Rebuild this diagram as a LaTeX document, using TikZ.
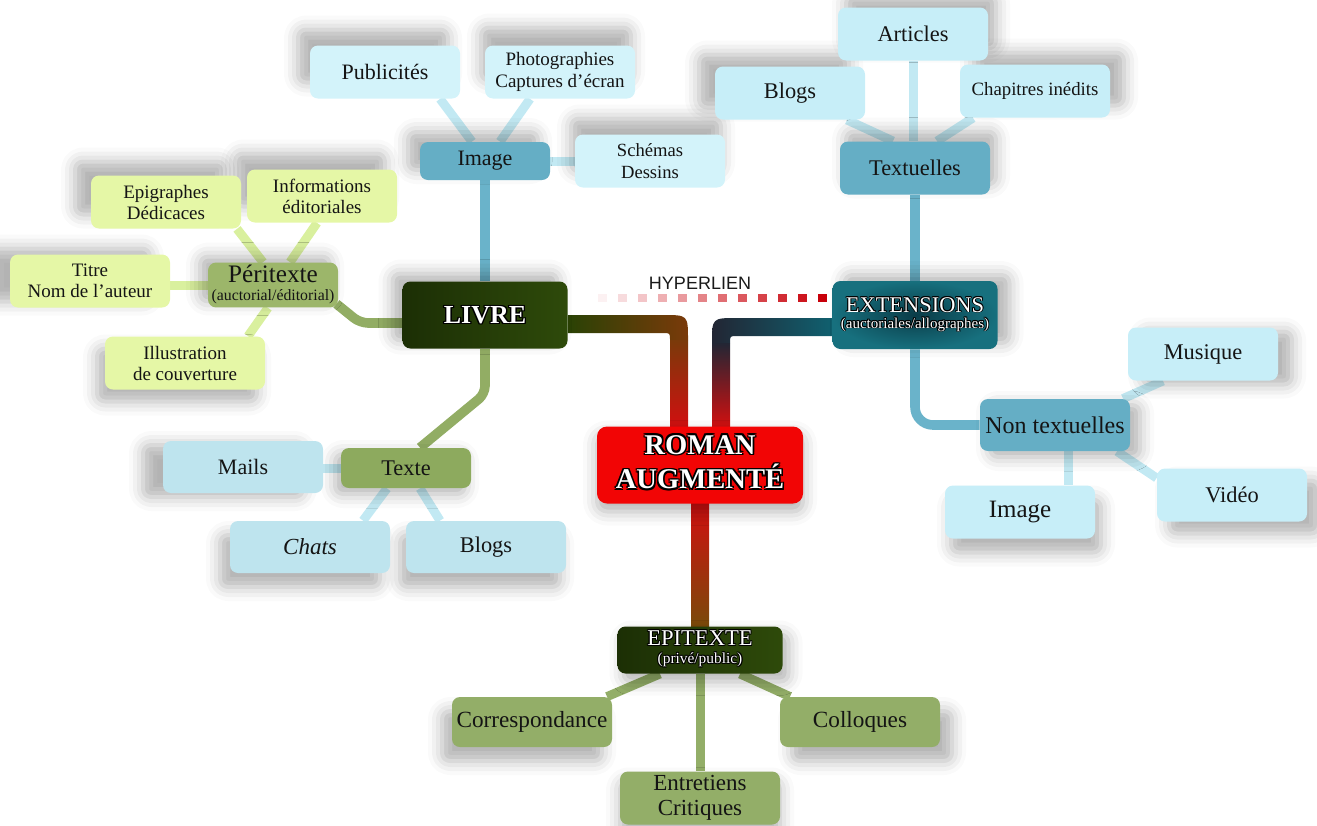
\documentclass[tikz,border=0pt]{standalone}
\usepackage{fontspec}
\setmainfont{Liberation Serif}
\newfontfamily\sansf{Liberation Sans}
\usetikzlibrary{shadows.blur,calc,backgrounds}

\definecolor{lbA}{HTML}{D3F3FA}
\definecolor{lbB}{HTML}{C7EEF8}
\definecolor{lbC}{HTML}{BEE4EE}
\definecolor{mb}{HTML}{65AEC5}
\definecolor{lgy}{HTML}{E5F7A6}
\definecolor{pg}{HTML}{9CB66A}
\definecolor{tg}{HTML}{8DAA5E}
\definecolor{eg}{HTML}{93AE68}
\definecolor{lblue}{HTML}{C2E9F3}
\definecolor{lgreen}{HTML}{D9F09E}
\definecolor{stemB}{HTML}{6AB3CA}
\definecolor{stemG}{HTML}{92AD64}
\definecolor{hyp}{HTML}{C8000A}
\definecolor{redbox}{HTML}{F20505}
\definecolor{dgA}{HTML}{1C2F05}
\definecolor{dgB}{HTML}{2E4A0A}
\definecolor{tealIn}{HTML}{0A3C48}
\definecolor{tealOut}{HTML}{17707E}
\definecolor{bandG1}{HTML}{2A4205}
\definecolor{bandG2}{HTML}{4C6A04}
\definecolor{bandBr}{HTML}{7A3A0A}
\definecolor{bandRd}{HTML}{D01010}
\definecolor{bandT1}{HTML}{10606F}
\definecolor{bandT2}{HTML}{163844}
\definecolor{bandNv}{HTML}{222634}
\definecolor{bandBot}{HTML}{7A4A0A}

\newcommand\fz[2]{\fontsize{#1}{#2}\selectfont}
\newcommand\halotxt[2][0.55pt]{\mbox{%
  \setbox0=\hbox{\color{black}#2}%
  \rlap{\kern#1\copy0}\rlap{\kern-#1\copy0}%
  \rlap{\raise#1\copy0}\rlap{\lower#1\copy0}%
  \rlap{\kern#1\raise#1\copy0}\rlap{\kern-#1\raise#1\copy0}%
  \rlap{\kern#1\lower#1\copy0}\rlap{\kern-#1\lower#1\copy0}%
  \hbox{\color{white}#2}}}

\tikzset{
  base/.style={rounded corners=4pt, align=center, inner sep=1pt, text=black!92},
  sh/.style 2 args={blur shadow={shadow xshift=#1, shadow yshift=#2, shadow blur radius=7pt, shadow opacity=30}},
  lbox/.style={base, fill=lbB, minimum width=75pt, minimum height=26.5pt, font=\fz{11.2}{12.5}},
  tbox/.style={base, fill=lbC, minimum width=80pt, minimum height=26pt, font=\fz{11.2}{12.5}},
  mbox/.style={base, fill=mb, font=\fz{11.2}{12.5}},
  ybox/.style={base, fill=lgy, minimum width=75pt, minimum height=26.5pt, font=\fz{9.5}{10.5}},
  gbox/.style={base, fill=eg, minimum width=80pt, minimum height=25pt, font=\fz{11.6}{12.5}},
  lline/.style={line width=4.5pt, draw=#1},
  stem/.style={line width=4.8pt, draw=#1, rounded corners=4pt},
}

\begin{document}
\begin{tikzpicture}[x=0.5pt,y=-0.5pt]
\useasboundingbox (0,0) rectangle (1317,825);

% ---------- top: Image branch ----------
\node[lbox, fill=lbA, font=\fz{9.5}{11}, sh={-2pt}{9pt}] (photo) at (560,72) {Photographies\\Captures d’écran};
\node[lbox, fill=lbA, font=\fz{11}{12}, sh={-6pt}{8pt}] (pub) at (385,72) {Publicités};
\node[lbox, fill=lbA, font=\fz{9.3}{11}, sh={-2pt}{8pt}] (sch) at (650,161) {Schémas\\Dessins};
\node[mbox, minimum width=65pt, minimum height=19pt, font=\fz{11}{12}, sh={-6pt}{5pt}] (imgM) at (485,161) {Image};

% ---------- top right: Textuelles ----------
\node[mbox, minimum width=75pt, minimum height=26.5pt, sh={3pt}{5pt}] (textu) at (915,168) {Textuelles};
\node[lbox, sh={-8pt}{6pt}] (blogT) at (790,93) {Blogs};
\node[lbox, font=\fz{9.4}{10}, sh={7pt}{6pt}] (chap) at (1035,91) {Chapitres inédits};
\node[lbox, sh={4pt}{6pt}] (art) at (913,34) {Articles};

% ---------- EXTENSIONS ----------
\node[base, inner color=tealIn, outer color=tealOut, minimum width=82.5pt, minimum height=34pt, sh={6pt}{3pt}, font=\fz{10}{8}] (ext) at (915,315)
  {\halotxt[0.4pt]{\begin{tabular}{@{}c@{}}{\fz{11.2}{12}EXTENSIONS}\\{\fz{7.5}{8}(auctoriales/allographes)}\end{tabular}}};

% ---------- Non textuelles ----------
\node[lbox, sh={7pt}{-2pt}] (mus) at (1203,354) {Musique};
\node[lbox, sh={6pt}{-6pt}] (vid) at (1232,495) {Vidéo};
\node[lbox, font=\fz{12.5}{13}, sh={3pt}{-7pt}] (imgR) at (1020,512) {Image};
\node[mbox, minimum width=75pt, minimum height=26pt, font=\fz{12}{13}, sh={5pt}{-3pt}] (nont) at (1055,425) {Non textuelles};

% ---------- LIVRE / ROMAN ----------
\node[base, left color=dgA, right color=dgB, minimum width=82.5pt, minimum height=33.5pt, sh={-5pt}{4pt}, font=\bfseries\fz{13}{14}] (livre) at (485,315) {\halotxt[0.6pt]{LIVRE}};
\node[base, fill=redbox, rounded corners=5pt, minimum width=103pt, minimum height=38.5pt, sh={0pt}{-4pt}, font=\bfseries\fz{14.3}{16.5}] (roman) at (700,465)
  {\halotxt[0.7pt]{\begin{tabular}{@{}c@{}}ROMAN\\AUGMENTÉ\end{tabular}}};

% ---------- Péritexte ----------
\node[base, fill=pg, minimum width=65pt, minimum height=22pt, sh={-4pt}{3pt}, font=\fz{11}{9}] (peri) at (273,285)
  {\begin{tabular}{@{}c@{}}{\fz{12.6}{13}Péritexte}\\{\fz{7.9}{8}(auctorial/éditorial)}\end{tabular}};
\node[ybox, sh={-6pt}{8pt}] (info) at (322,196) {Informations\\éditoriales};
\node[ybox, sh={-8pt}{7pt}] (epi) at (166,202) {Epigraphes\\Dédicaces};
\node[ybox, minimum width=80pt, sh={-10pt}{3pt}] (titre) at (90,281) {Titre\\Nom de l’auteur};
\node[ybox, minimum width=80pt, sh={-4pt}{-6pt}] (illus) at (185,363) {Illustration\\de couverture};

% ---------- Texte ----------
\node[base, fill=tg, minimum width=65pt, minimum height=20pt, font=\fz{11.2}{12}, sh={-3pt}{-3pt}] (texte) at (406,468) {Texte};
\node[tbox, font=\fz{11}{12}, sh={-10pt}{-2pt}] (mails) at (243,467) {Mails};
\node[tbox, sh={-3pt}{-7pt}] (blogB) at (486,547) {Blogs};
\node[tbox, font=\itshape\fz{11.5}{12}, sh={-5pt}{-7pt}] (chats) at (310,547) {Chats};

% ---------- EPITEXTE ----------
\node[base, left color=dgA, right color=dgB, minimum width=82.5pt, minimum height=23.5pt, sh={3pt}{-4pt}, font=\fz{10}{9}] (epit) at (700,650)
  {\halotxt[0.4pt]{\begin{tabular}{@{}c@{}}{\fz{11.3}{12}EPITEXTE}\\{\fz{7.7}{8}(privé/public)}\end{tabular}}};
\node[gbox, sh={-5pt}{-7pt}] (corr) at (532,722) {Correspondance};
\node[gbox, sh={6pt}{-7pt}] (coll) at (860,722) {Colloques};
\node[gbox, minimum height=26.5pt, font=\fz{11.5}{12.5}, sh={0pt}{-5pt}] (entr) at (700,798) {Entretiens\\Critiques};

% ---------- HYPERLIEN ----------
\node[font=\sansf\fz{9}{10}, text=black!90] (hyp) at (700,283) {HYPERLIEN};

\begin{pgfonlayer}{background}
  % light connectors
  \draw[lline=lblue] ($(pub.south)+(55,0)$) -- ($(imgM.north)+(-13,0)$);
  \draw[lline=lblue] ($(photo.south)+(-30,0)$) -- ($(imgM.north)+(15,0)$);
  \draw[lline=lblue] (imgM.east) -- (sch.west);
  \draw[lline=lblue] (art.south) -- (art.south |- textu.north);
  \draw[lline=lblue] ($(blogT.south)+(57,0)$) -- ($(textu.north)+(-22,0)$);
  \draw[lline=lblue] ($(chap.south)+(-62,0)$) -- ($(textu.north)+(22,0)$);
  \draw[lline=lblue] ($(nont.north)+(68,0)$) -- ($(mus.south)+(-40,0)$);
  \draw[lline=lblue] ($(nont.south)+(62,0)$) -- ($(vid.west)+(0,-17)$);
  \coordinate (nr) at ($(nont.south)+(13,0)$);
  \draw[lline=lblue] (nr) -- (nr |- imgR.north);
  \draw[lline=lgreen] ($(epi.south)+(71,0)$) -- ($(peri.north)+(-10,0)$);
  \draw[lline=lgreen] ($(info.south)+(-5,0)$) -- ($(peri.north)+(17,0)$);
  \draw[lline=lgreen] (peri.west) -- (peri.west -| titre.east);
  \draw[lline=lgreen] ($(illus.north)+(63,0)$) -- ($(peri.south)+(-5,0)$);
  \draw[lline=lblue] (texte.west) -- (texte.west -| mails.east);
  \draw[lline=lblue] ($(chats.north)+(53,0)$) -- ($(texte.south)+(-19,0)$);
  \draw[lline=lblue] ($(blogB.north)+(-46,0)$) -- ($(texte.south)+(14,0)$);
  \draw[lline=eg] ($(corr.north)+(75,0)$) -- ($(epit.south)+(-40,0)$);
  \draw[lline=eg] (epit.south) -- (entr.north);
  \draw[lline=eg] ($(epit.south)+(40,0)$) -- ($(coll.north)+(-70,0)$);
  % stems
  \draw[stem=stemB] (imgM.south) -- (imgM.south |- livre.north);
  \draw[stem=stemB] (textu.south) -- (textu.south |- ext.north);
  \draw[stem=stemB, rounded corners=9pt] (ext.south) -- (ext.south |- nont.west) -- (nont.west);
  \draw[stem=stemG] ($(livre.west)+(0,8)$) -- ++(-42,0) -- ($(peri.south east)+(-2,-4)$);
  \draw[stem=stemG] (livre.south) -- ++(0,45) -- ($(texte.north)+(14,0)$);
  % main gradient bands
  \coordinate (lE1) at (livre.east);
  \coordinate (lE2) at ($(livre.east)+(0,18)$);
  \coordinate (rL1) at ($(roman.north)+(-12,0)$);
  \coordinate (rL2) at ($(roman.north)+(-30,0)$);
  \coordinate (Lc) at (rL1 |- lE1);
  \coordinate (Li) at (rL2 |- lE2);
  \shade[left color=bandG1, middle color=bandG2, right color=bandBr]
    (lE1) -- ($(Lc)+(-25,0)$) .. controls (Lc) .. ($(Lc)+(0,25)$) -- ($(Li)+(0,7)$) .. controls (Li) .. ($(Li)+(-7,0)$) -- (lE2) -- cycle;
  \shade[top color=bandBr, bottom color=bandRd] ($(Li)+(0,7)$) rectangle (rL1);
  \coordinate (eW1) at ($(ext.west)+(0,3)$);
  \coordinate (eW2) at ($(ext.west)+(0,21)$);
  \coordinate (rR1) at ($(roman.north)+(12,0)$);
  \coordinate (rR2) at ($(roman.north)+(30,0)$);
  \coordinate (Rc) at (rR1 |- eW1);
  \coordinate (Ri) at (rR2 |- eW2);
  \shade[left color=bandNv, middle color=bandT2, right color=bandT1]
    (eW1) -- ($(Rc)+(25,0)$) .. controls (Rc) .. ($(Rc)+(0,25)$) -- ($(Ri)+(0,7)$) .. controls (Ri) .. ($(Ri)+(7,0)$) -- (eW2) -- cycle;
  \shade[top color=bandNv, bottom color=bandRd] ($(Rc)+(0,25)$) rectangle (rR2);
  \shade[top color=bandRd, bottom color=bandBot] ($(roman.south)+(-9,0)$) rectangle ($(epit.north)+(9,0)$);
  % hyperlink squares
  \foreach \j in {0,...,11}{
    \pgfmathsetmacro\p{100-\j*8.6}
    \fill[hyp!\p!white] ($(ext.west)+(-5-20*\j,-21)$) rectangle ++(-9,8);
  }
\end{pgfonlayer}
\end{tikzpicture}
\end{document}
